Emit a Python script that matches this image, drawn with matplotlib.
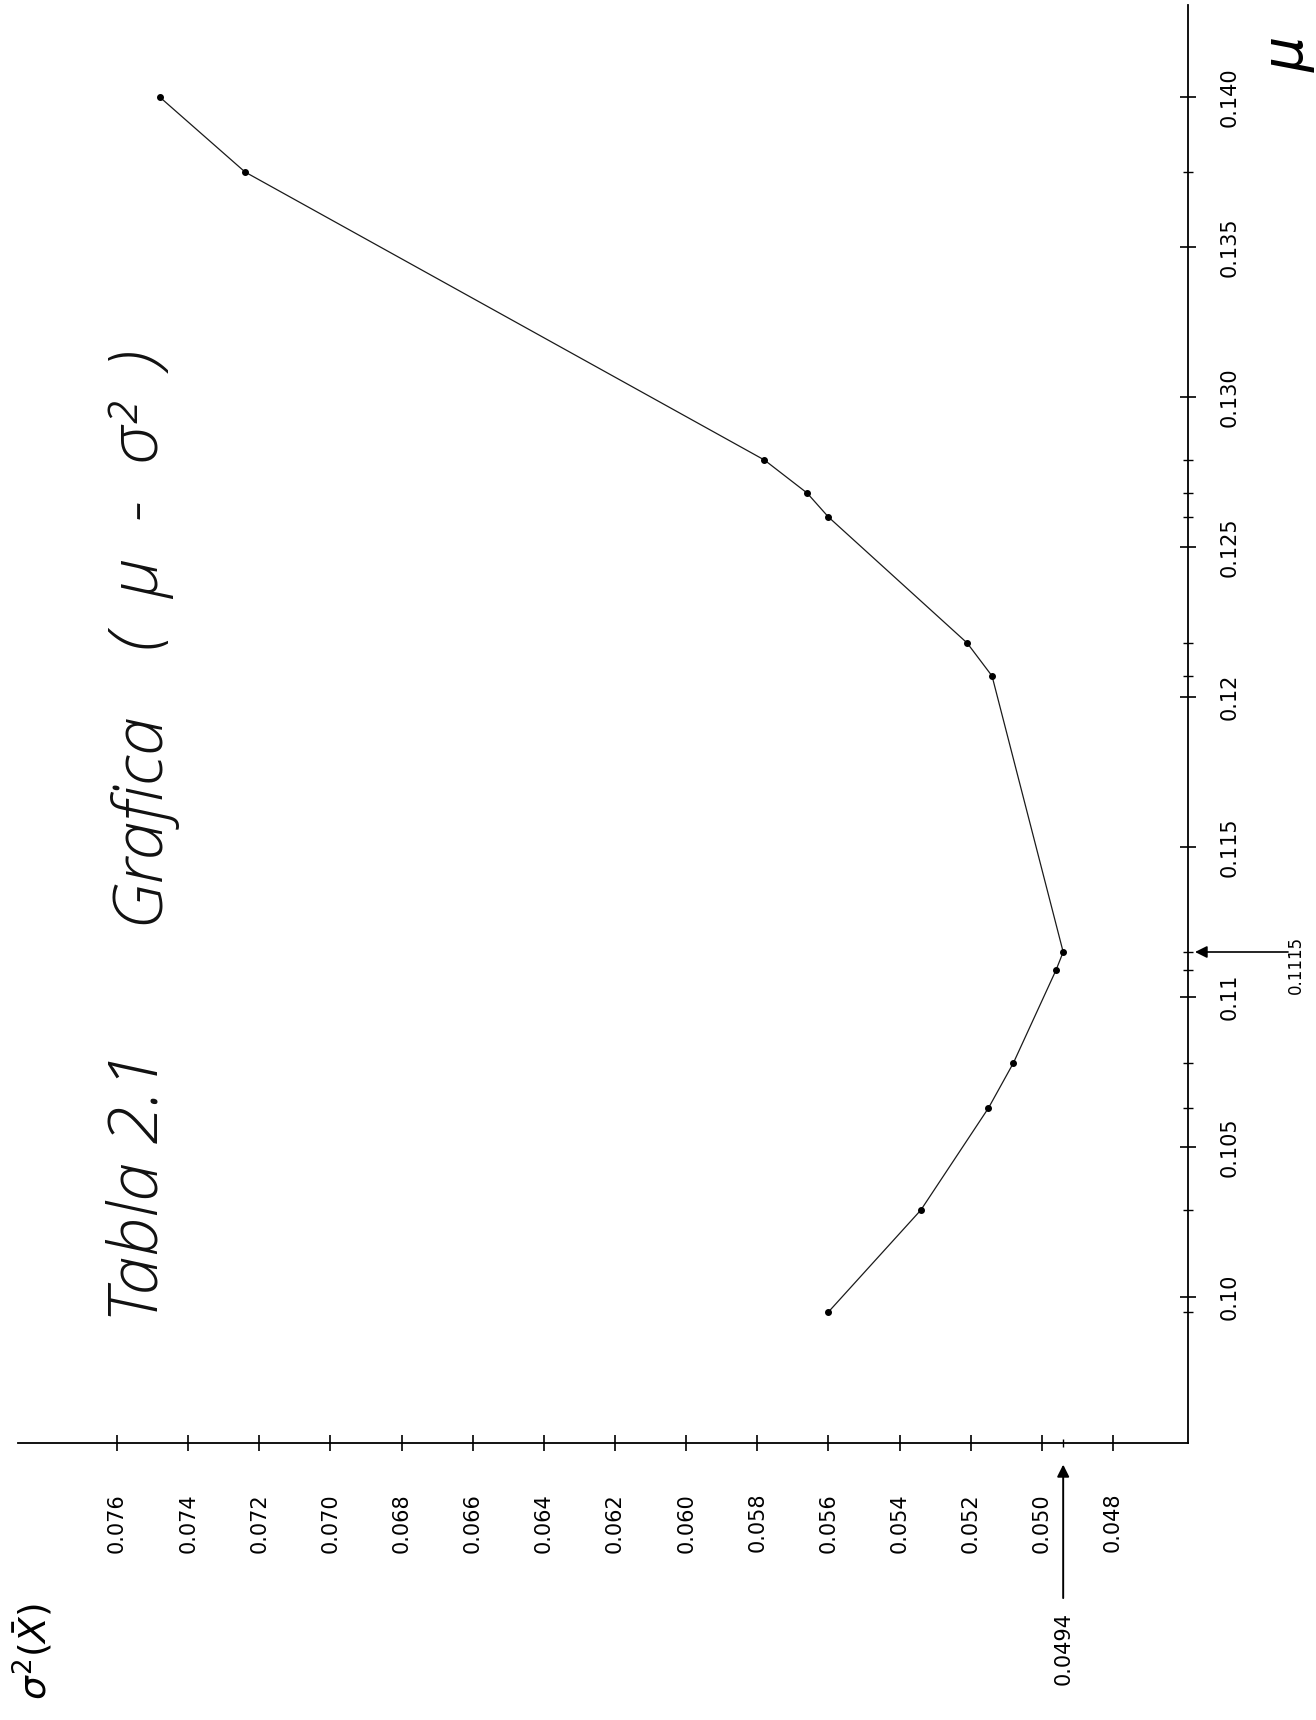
import matplotlib
matplotlib.use("Agg")
import matplotlib.pyplot as plt

# Tabla 2.1 - varianza de la media frente a mu
mu = [0.140, 0.1375, 0.1279, 0.1268, 0.1260, 0.1218, 0.1207,
      0.1115, 0.1109, 0.1078, 0.1063, 0.1029, 0.0995]
sigma2 = [0.0748, 0.0724, 0.0578, 0.0566, 0.0560, 0.0521, 0.0514,
          0.0494, 0.0496, 0.0508, 0.0515, 0.0534, 0.0560]

mu_ticks = [0.10, 0.105, 0.11, 0.115, 0.12, 0.125, 0.130, 0.135, 0.140]
mu_labels = ["0.10", "0.105", "0.11", "0.115", "0.12", "0.125", "0.130", "0.135", "0.140"]
s_ticks = [0.076, 0.074, 0.072, 0.070, 0.068, 0.066, 0.064, 0.062,
           0.060, 0.058, 0.056, 0.054, 0.052, 0.050, 0.048]
s_labels = ["%.3f" % v for v in s_ticks]

mu_min = 0.1115
s_min = 0.0494

W, H = 1316, 1720
fig = plt.figure(figsize=(W / 100, H / 100), dpi=100)
fig.patch.set_facecolor("white")

# page is turned: sigma^2 runs right-to-left along the bottom, mu upward on the right
ax = fig.add_axes([18 / W, 1 - 1443 / H, 1170 / W, 1438 / H])
ax.set_xlim(0.078783, 0.045891)
ax.set_ylim(0.095133, 0.143067)

ax.plot(sigma2, mu, color="#1a1a1a", lw=0.9, marker="o", ms=4, mfc="black", mec="black")

for side in ["top", "left"]:
    ax.spines[side].set_visible(False)
for side in ["bottom", "right"]:
    ax.spines[side].set_linewidth(1.3)

ax.yaxis.tick_right()
ax.set_xticks(s_ticks)
ax.set_xticklabels(s_labels)
ax.set_xticks([s_min], minor=True)
ax.set_yticks(mu_ticks)
ax.set_yticklabels(mu_labels)
ax.set_yticks([m for m in mu if m not in mu_ticks], minor=True)

ax.tick_params(axis="x", which="major", direction="inout", length=12, width=1.2,
               pad=30, labelsize=15, labelrotation=90)
ax.tick_params(axis="x", which="minor", direction="inout", length=6, width=1.0)
ax.tick_params(axis="y", which="major", direction="inout", length=11, width=1.2,
               pad=17, labelsize=15, labelrotation=90)
ax.tick_params(axis="y", which="minor", direction="inout", length=7, width=1.0)
for lbl in ax.get_yticklabels():
    lbl.set_va("center")

# arrow marking the minimum variance
ax.annotate("0.0494", xy=(s_min, -0.015), xycoords=ax.get_xaxis_transform(),
            xytext=(s_min, -0.1175), textcoords=ax.get_xaxis_transform(),
            rotation=90, ha="center", va="top", fontsize=15,
            arrowprops=dict(arrowstyle="-|>", color="black", lw=1.4,
                            shrinkA=8, shrinkB=0, mutation_scale=18))

# arrow marking mu at the minimum
ax.annotate("", xy=(1.006, mu_min), xycoords=ax.get_yaxis_transform(),
            xytext=(1.0855, mu_min), textcoords=ax.get_yaxis_transform(),
            arrowprops=dict(arrowstyle="-|>", color="black", lw=1.2,
                            shrinkA=0, shrinkB=0, mutation_scale=18))
ax.annotate("0.1115", xy=(1.092, mu_min), xycoords=ax.get_yaxis_transform(),
            xytext=(0, 16), textcoords="offset pixels",
            rotation=90, ha="center", va="top", fontsize=12)

# titles and axis names, written sideways like the sheet
title_font = dict(rotation=90, ha="center", va="center", fontsize=50,
                  fontstyle="italic", fontweight="light",
                  family=["Open Sans", "DejaVu Sans"], color="#111111")
fig.text(140 / W, 1 - 1187 / H, "Tabla 2.1", **title_font)
fig.text(140 / W, 1 - 817 / H, "Grafica", **title_font)
fig.text(140 / W, 1 - 500 / H, "(  μ  -  σ²  )", **title_font)

fig.text(1290 / W, 1 - 54 / H, r"$\mu$", rotation=90, ha="center", va="center",
         fontsize=40)
fig.text(32 / W, 1 - 1652 / H, r"$\sigma^2(\bar{X})$", rotation=90, ha="center",
         va="center", fontsize=27)

fig.savefig("out.png", dpi=100, facecolor="white")
